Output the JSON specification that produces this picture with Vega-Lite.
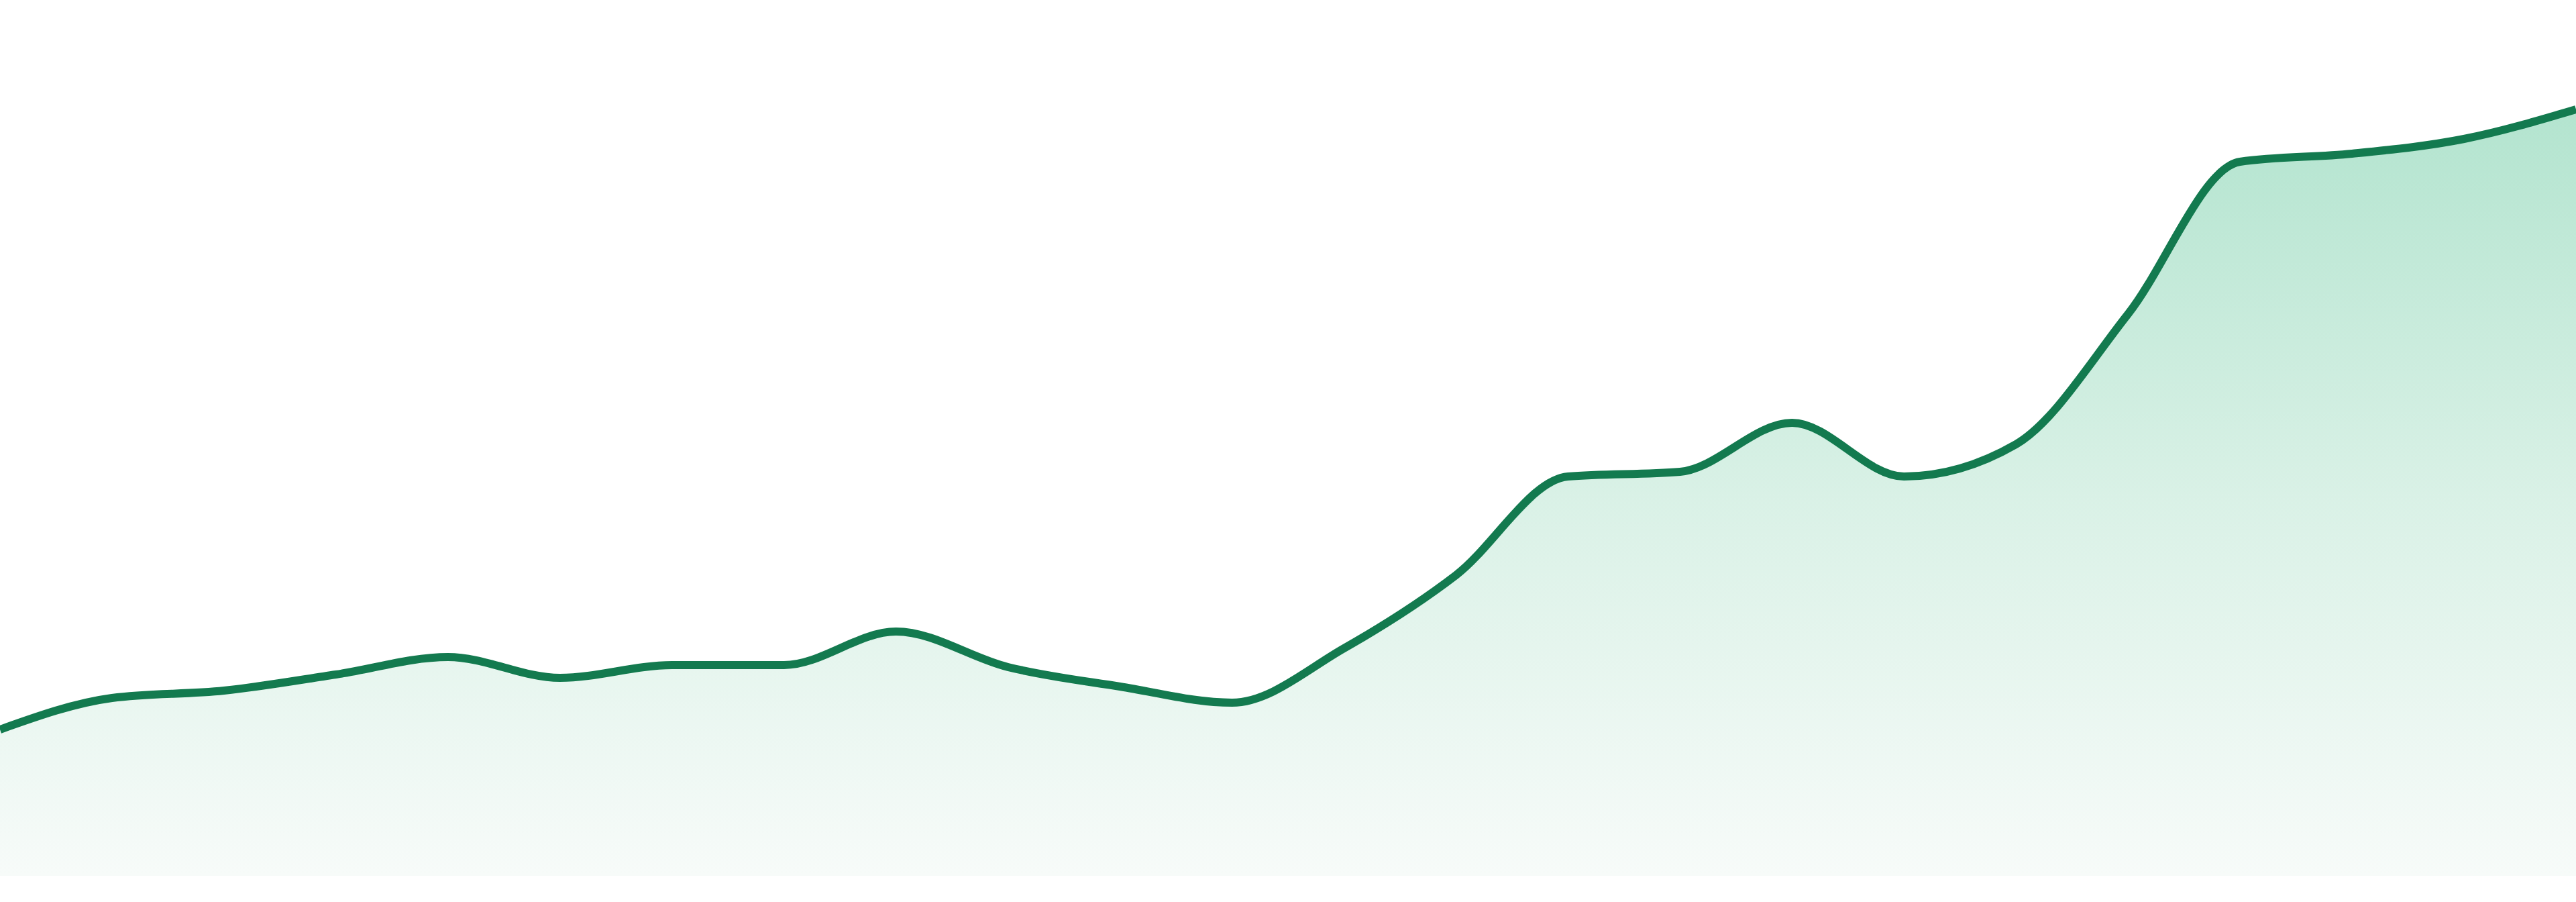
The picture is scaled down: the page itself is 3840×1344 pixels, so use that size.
{
  "$schema": "https://vega.github.io/schema/vega-lite/v6.json",
  "width": 3840,
  "height": 1305,
  "padding": 0,
  "autosize": {"type": "none"},
  "background": "white",
  "config": {"view": {"stroke": null}},
  "data": {"values": [
    {"i": 0, "v": 218}, {"i": 1, "v": 265}, {"i": 2, "v": 276}, {"i": 3, "v": 300},
    {"i": 4, "v": 326}, {"i": 5, "v": 295}, {"i": 6, "v": 314}, {"i": 7, "v": 314},
    {"i": 8, "v": 364}, {"i": 9, "v": 311}, {"i": 10, "v": 282}, {"i": 11, "v": 258},
    {"i": 12, "v": 339}, {"i": 13, "v": 448}, {"i": 14, "v": 595}, {"i": 15, "v": 602},
    {"i": 16, "v": 675}, {"i": 17, "v": 595}, {"i": 18, "v": 643}, {"i": 19, "v": 837},
    {"i": 20, "v": 1064}, {"i": 21, "v": 1076}, {"i": 22, "v": 1098}, {"i": 23, "v": 1142}
  ]},
  "encoding": {
    "x": {"field": "i", "type": "quantitative", "scale": {"domain": [0, 23], "nice": false, "zero": false}, "axis": null},
    "y": {"field": "v", "type": "quantitative", "scale": {"domain": [0, 1305], "nice": false}, "axis": null}
  },
  "layer": [
    {
      "mark": {
        "type": "area",
        "interpolate": "monotone",
        "color": {
          "gradient": "linear",
          "x1": 0, "y1": 0, "x2": 0, "y2": 1,
          "stops": [
            {"offset": 0, "color": "#b3e4cf"},
            {"offset": 0.5, "color": "#d9f1e6"},
            {"offset": 1, "color": "#f7fbf9"}
          ]
        }
      }
    },
    {
      "mark": {"type": "line", "interpolate": "monotone", "color": "#137a4f", "strokeWidth": 12}
    }
  ]
}
